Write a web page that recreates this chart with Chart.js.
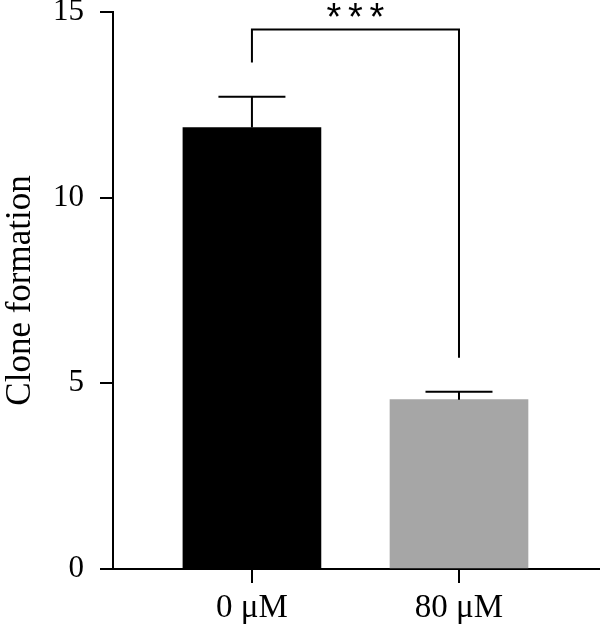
<!DOCTYPE html>
<html>
<head>
<meta charset="utf-8">
<script src="https://cdn.jsdelivr.net/npm/chart.js@4"></script>
<style>
html,body{margin:0;padding:0;background:#fff;}
#wrap{width:600px;height:633px;position:relative;}
</style>
</head>
<body>
<div id="wrap"><canvas id="c" width="600" height="633"></canvas></div>
<script>
const categories = ['0 μM', '80 μM'];
const means = [11.89, 4.56];
const errors = [0.83, 0.21];
const barColors = ['#000000', '#a6a6a6'];
const yTicks = [0, 5, 10, 15];
const sigLabel = '***';
const bracketTop = 14.53;
const bracketLegBottoms = [13.64, 5.69];

const FONT = '"Liberation Serif", "DejaVu Serif", serif';

const overlay = {
  id: 'overlay',
  afterDatasetsDraw(chart) {
    const ctx = chart.ctx;
    const xs = chart.scales.x, ys = chart.scales.y;
    ctx.save();
    ctx.strokeStyle = '#000';
    ctx.lineWidth = 2;
    ctx.lineCap = 'butt';
    categories.forEach((c, i) => {
      const x = xs.getPixelForValue(i);
      const y0 = ys.getPixelForValue(means[i]);
      const y1 = ys.getPixelForValue(means[i] + errors[i]);
      ctx.beginPath();
      ctx.moveTo(x, y0);
      ctx.lineTo(x, y1);
      ctx.moveTo(x - 33.5, y1);
      ctx.lineTo(x + 33.5, y1);
      ctx.stroke();
    });
    const xl = xs.getPixelForValue(0), xr = xs.getPixelForValue(1);
    const yt = ys.getPixelForValue(bracketTop);
    ctx.beginPath();
    ctx.moveTo(xl, ys.getPixelForValue(bracketLegBottoms[0]));
    ctx.lineTo(xl, yt);
    ctx.lineTo(xr, yt);
    ctx.lineTo(xr, ys.getPixelForValue(bracketLegBottoms[1]));
    ctx.stroke();
    ctx.fillStyle = '#000';
    ctx.font = '38px "Liberation Sans", "DejaVu Sans", sans-serif';
    ctx.textAlign = 'center';
    ctx.textBaseline = 'alphabetic';
    const m = ctx.measureText('*');
    const asc = m.actualBoundingBoxAscent, desc = m.actualBoundingBoxDescent;
    const cy = 10;
    const baseY = cy + (asc - desc) / 2;
    const cx = (xl + xr) / 2;
    [-21.5, 0, 21.5].forEach((dx, k) => {
      ctx.fillText(sigLabel[k], cx + dx, baseY);
    });
    ctx.restore();
  }
};

new Chart(document.getElementById('c'), {
  type: 'bar',
  data: {
    datasets: [{
      data: categories.map((c, i) => ({x: i, y: means[i]})),
      backgroundColor: barColors,
      borderWidth: 0,
      barThickness: 138
    }]
  },
  options: {
    responsive: false,
    animation: false,
    devicePixelRatio: 1,
    layout: {padding: {top: 12, right: 0, left: 0, bottom: 0}},
    plugins: {legend: {display: false}, tooltip: {enabled: false}},
    scales: {
      x: {
        type: 'linear',
        offset: false,
        min: -0.671,
        max: 1.681,
        afterBuildTicks(scale) { scale.ticks = categories.map((c, i) => ({value: i})); },
        afterFit(scale) { scale.height = 64; scale.paddingLeft = 0; scale.paddingRight = 0; },
        ticks: {
          callback: (v) => categories[v] !== undefined ? categories[v] : '',
          color: '#000',
          font: {family: FONT, size: 33},
          padding: 6,
          maxRotation: 0,
          autoSkip: false
        },
        grid: {drawOnChartArea: false, drawTicks: true, tickLength: 14, color: '#000', lineWidth: 2, offset: false},
        border: {color: '#000', width: 2}
      },
      y: {
        min: 0,
        max: 15,
        afterBuildTicks(scale) { scale.ticks = yTicks.map(v => ({value: v})); },
        afterFit(scale) { scale.width = 113; scale.paddingTop = 0; scale.paddingBottom = 0; },
        ticks: {
          color: '#000',
          font: {family: FONT, size: 31},
          padding: 16
        },
        title: {
          display: true,
          text: 'Clone formation',
          color: '#000',
          font: {family: FONT, size: 35},
          padding: {top: 0, bottom: 0}
        },
        grid: {drawOnChartArea: false, drawTicks: true, tickLength: 13, color: '#000', lineWidth: 2},
        border: {color: '#000', width: 2}
      }
    }
  },
  plugins: [overlay]
});
</script>
</body>
</html>
